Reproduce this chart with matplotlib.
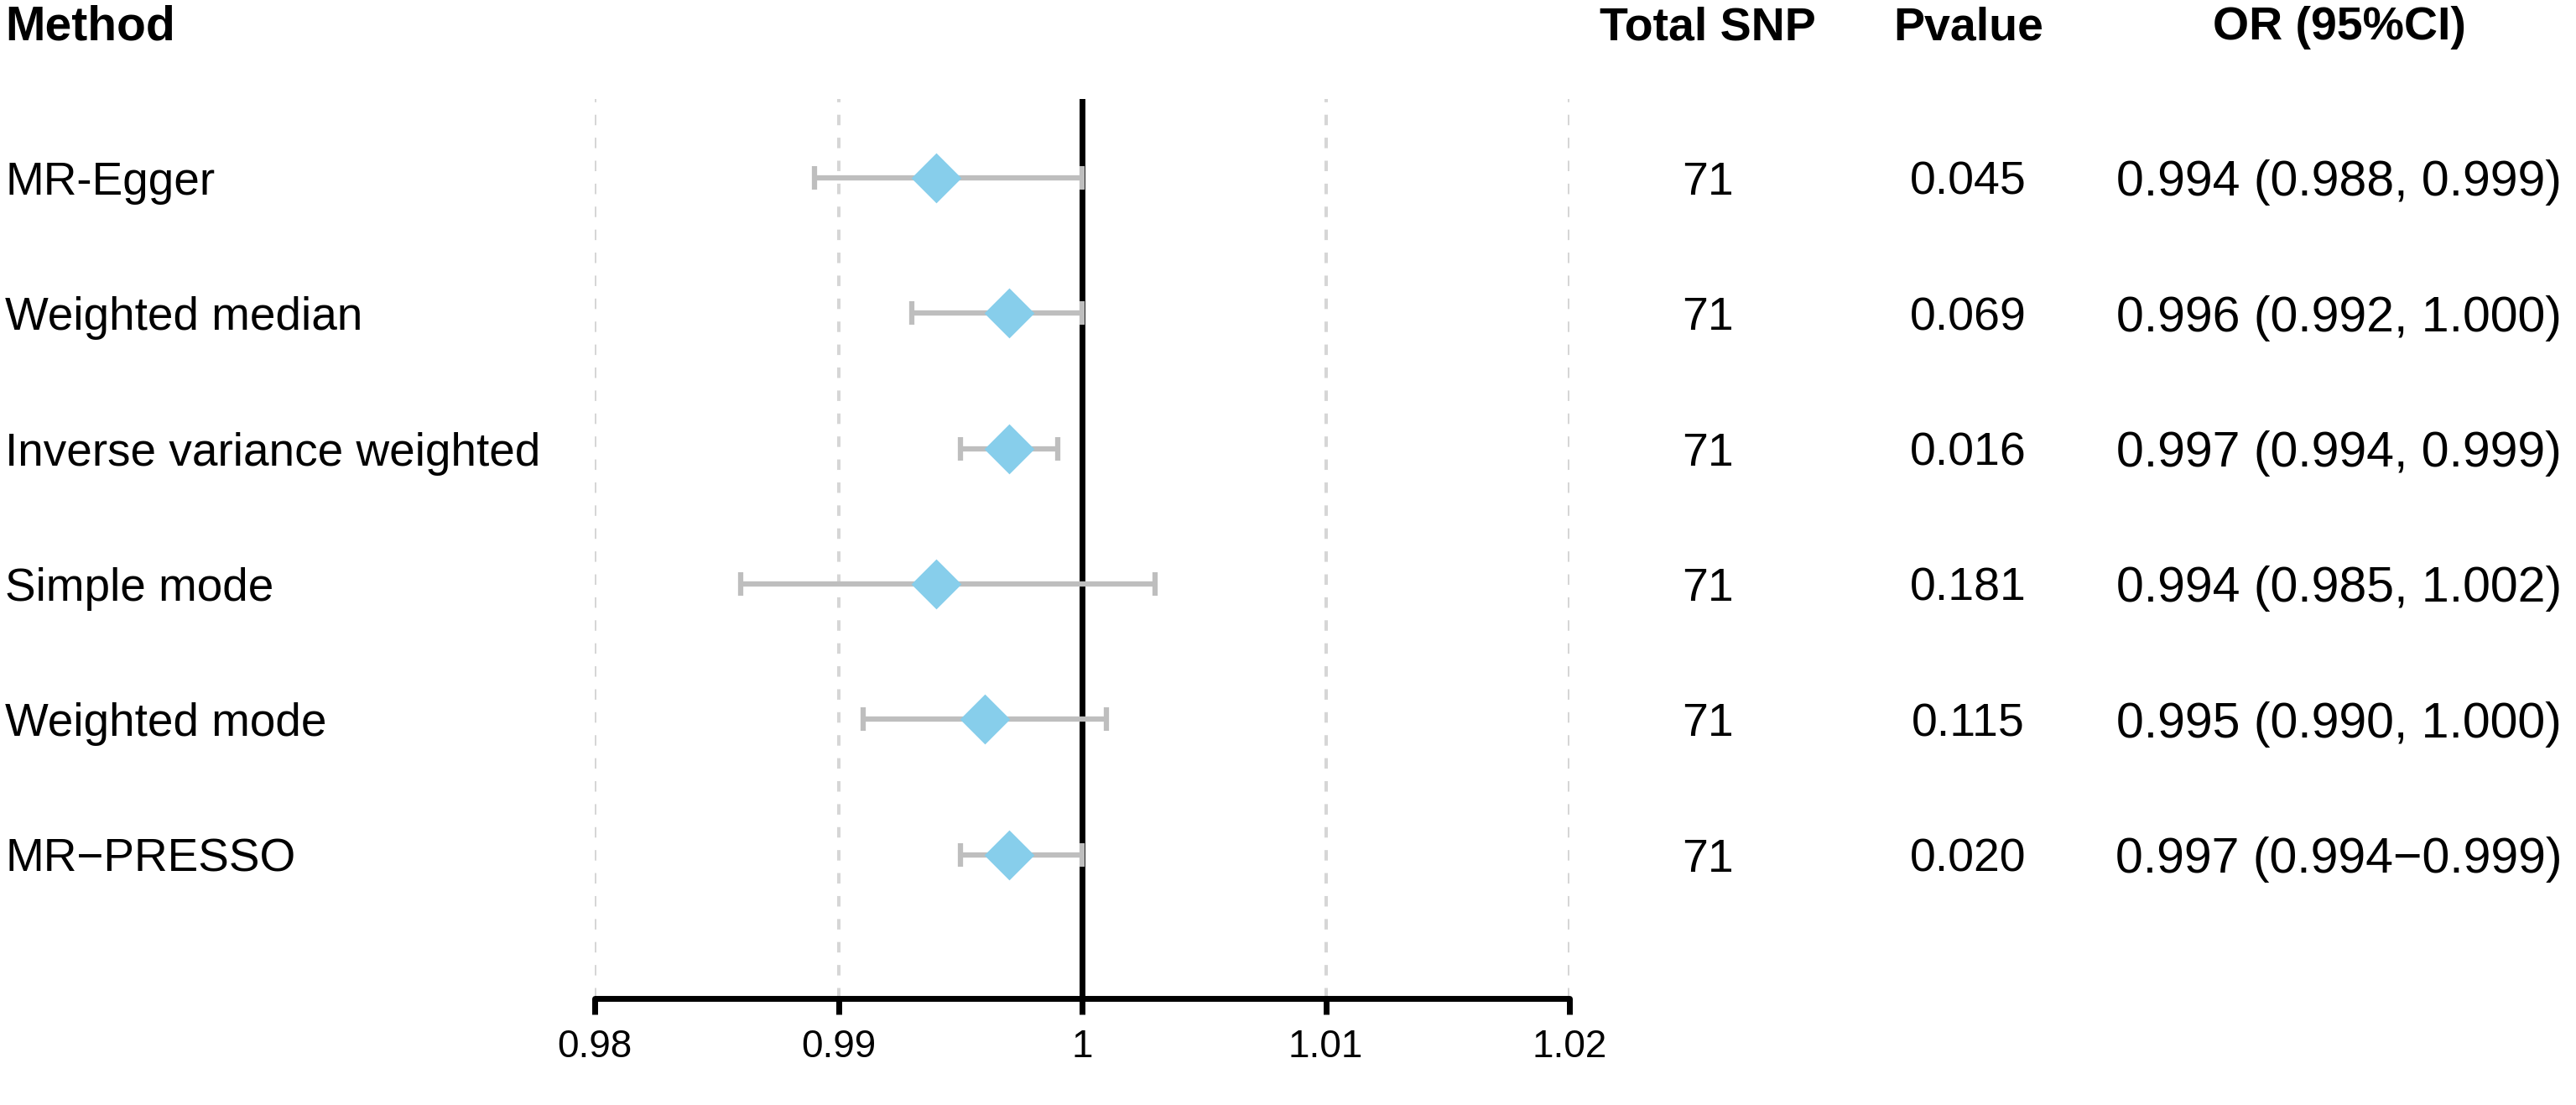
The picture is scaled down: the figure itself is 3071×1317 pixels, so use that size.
import matplotlib
matplotlib.use("Agg")
import matplotlib.pyplot as plt
from matplotlib.transforms import blended_transform_factory

plt.rcParams['font.family'] = ['Liberation Sans', 'DejaVu Sans']

# data
methods = ['MR-Egger', 'Weighted median', 'Inverse variance weighted',
           'Simple mode', 'Weighted mode', 'MR\u2212PRESSO']
or_est = [0.994, 0.997, 0.997, 0.994, 0.996, 0.997]
ci_low = [0.989, 0.993, 0.995, 0.986, 0.991, 0.995]
ci_high = [1.000, 1.000, 0.999, 1.003, 1.001, 1.000]
total_snp = ['71', '71', '71', '71', '71', '71']
pvalues = ['0.045', '0.069', '0.016', '0.181', '0.115', '0.020']
or_text = ['0.994 (0.988, 0.999)', '0.996 (0.992, 1.000)', '0.997 (0.994, 0.999)',
           '0.994 (0.985, 1.002)', '0.995 (0.990, 1.000)', '0.997 (0.994\u22120.999)']
xticks = [0.98, 0.99, 1.0, 1.01, 1.02]
xtick_labels = ['0.98', '0.99', '1', '1.01', '1.02']

fig = plt.figure(figsize=(30.71, 13.17), dpi=100)
ax = fig.add_axes([0.2309, 0.0964, 0.3784, 0.814])

rows = list(range(1, len(methods) + 1))

# grid lines (dashed) except at the null line
for xt in xticks:
    if xt != 1.0:
        ax.axvline(xt, color='#D6D6D6', lw=2.9, ls=(0, (3.1, 3.7)), zorder=1)
ax.axvline(1.0, color='black', lw=5, zorder=2)

# error bars and diamonds
xerr = [[e - l for e, l in zip(or_est, ci_low)], [h - e for e, h in zip(or_est, ci_high)]]
eb = ax.errorbar(or_est, rows, xerr=xerr, fmt='none', ecolor='#BEBEBE',
                 elinewidth=4.5, capsize=10, capthick=4.5, zorder=3)
for cap in eb[1]:
    cap.set_solid_capstyle('round')
diamond = [(0, 1), (1, 0), (0, -1), (-1, 0), (0, 1)]
ax.plot(or_est, rows, ls='none', marker=diamond, markersize=43,
        color='#87CEEB', markeredgewidth=0, zorder=4)

ax.set_xlim(0.98, 1.02)
ax.set_ylim(7.06, 0.42)
ax.set_xticks(xticks)
ax.set_xticklabels(xtick_labels)
ax.set_yticks([])
for side in ['top', 'right', 'left']:
    ax.spines[side].set_visible(False)
ax.spines['bottom'].set_linewidth(5)
ax.spines['bottom'].set_capstyle('round')
ax.tick_params(axis='x', length=14, width=5, direction='out', pad=12, labelsize=33)

# table text
trans = blended_transform_factory(fig.transFigure, ax.transData)
header_y = (1317 - 47) / 1317
col_snp = 0.663
col_p = 0.764
col_or = 0.908
fig.text(0.002, header_y, 'Method', fontsize=41, fontweight='bold', ha='left', va='baseline')
fig.text(col_snp, header_y, 'Total SNP', fontsize=40, fontweight='bold', ha='center', va='baseline')
fig.text(col_p, header_y, 'Pvalue', fontsize=40, fontweight='bold', ha='center', va='baseline')
fig.text(col_or, header_y, 'OR (95%CI)', fontsize=40, fontweight='bold', ha='center', va='baseline')

for r, m, n, p, o in zip(rows, methods, total_snp, pvalues, or_text):
    ax.text(0.002, r, m, transform=trans, fontsize=39.5, ha='left', va='center_baseline', clip_on=False)
    ax.text(col_snp, r, n, transform=trans, fontsize=40, ha='center', va='center_baseline', clip_on=False)
    ax.text(col_p, r, p, transform=trans, fontsize=40, ha='center', va='center_baseline', clip_on=False)
    ax.text(col_or, r, o, transform=trans, fontsize=42.5, ha='center', va='center_baseline', clip_on=False)

fig.savefig('out.png', dpi=100, facecolor='white')
